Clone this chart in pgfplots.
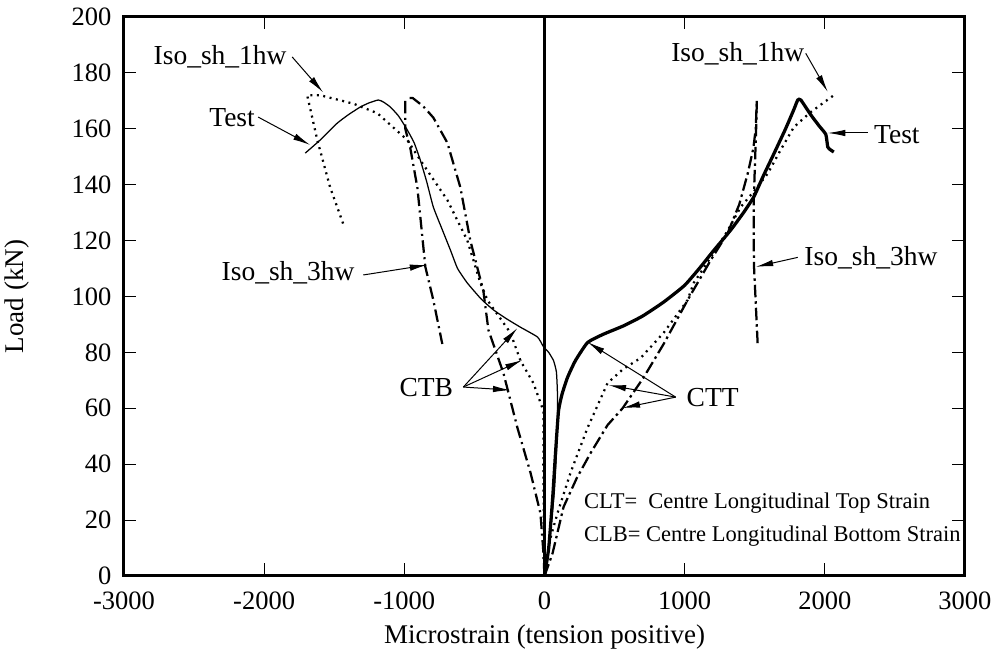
\documentclass[border=0pt]{standalone}
\usepackage{fontspec}
\setmainfont{Liberation Serif}
\usepackage{pgfplots}
\pgfplotsset{compat=1.18}
\usetikzlibrary{arrows.meta}
\pgfplotstableread{
x y
0 0
30 10
57 27
80 45
100 59
125 65
164 71
220 77
307 83.5
420 86.5
564 89.5
700 93
850 98
1000 104
1114 110.6
1200 116
1329 123.8
1420 130
1493 135.6
1560 143
1636 151
1720 160
1780 167
1807 170.3
1829 170.3
1900 165
1960 161
2007 158
2021 153.5
2040 152.5
2064 151.7
}\testright
\pgfplotstableread{
x y
0 0
40 15
70 30
86 45
92 56
92 66
85 73
65 77
30 80
-7 82
-50 85.5
-171 89
-270 92
-364 95.2
-450 99
-550 104.8
-620 110
-671 116.6
-730 124
-793 132
-840 141
-886 148.8
-930 155
-979 159.6
-1040 164.5
-1100 167.8
-1150 169.6
-1186 170.3
-1250 169.3
-1314 167.8
-1400 165
-1479 162
-1600 156
-1707 151.3
}\testleft
\pgfplotstableread{
x y
0 0
20 8
50 15
93 22.5
186 37
307 53
450 69
560 74
686 78
850 87
1021 98.7
1064 104.8
1207 115.6
1300 123
1400 132
1500 138
1593 144
1680 152
1779 160.6
1900 166
2064 172
}\oneright
\pgfplotstableread{
x y
0 0
-5 20
-8 40
-7 59
-79 69
-171 77
-243 87
-407 98.7
-457 104.8
-550 120
-693 134.5
-886 148.8
-979 156
-1193 165.6
-1364 169
-1600 172
-1693 172
-1621 156
-1529 139
-1436 126
}\oneleft
\pgfplotstableread{
x y
0 0
57 8
136 24.7
230 35
329 44
450 54
557 60
707 71
850 83
1021 98.7
1186 113
1307 122.7
1390 133
1450 144
1490 153
1507 160
1515 170
}\threerightup
\pgfplotstableread{
x y
1515 170
1510 160
1500 145
1493 134.5
1493 120
1495 110.6
1505 100
1521 83
}\threerightdown
\pgfplotstableread{
x y
0 0
-10 10
-29 22.5
-100 37
-193 53
-293 72.6
-400 88
-436 102
-529 120
-600 139
-693 155
-793 164
-864 168
-940 171
-985 171
}\threeleftup
\pgfplotstableread{
x y
-993 170
-993 160
-957 153
-907 139
-850 110.6
-793 98.7
-729 83
}\threeleftdown
\begin{document}
\begin{tikzpicture}
\useasboundingbox (-49.6pt,-29.2pt) rectangle (350pt,230.4pt);
\begin{axis}[
  at={(0,0)}, anchor=south west,
  width=336.4pt, height=223.6pt, scale only axis,
  xmin=-3000, xmax=3000, ymin=0, ymax=200,
  xtick distance=1000, ytick distance=20,
  tick align=inside, major tick length=5pt,
  tick style={black, line width=0.4pt},
  axis line style={line width=1.2pt},
  /pgf/number format/assume math mode=true,
  /pgf/number format/1000 sep={},
  tick label style={font=\fontsize{10.6}{12}\selectfont},
  xticklabel shift=3pt,
  yticklabel shift=1.5pt,
  label style={font=\fontsize{10.8}{12}\selectfont},
  xlabel={Microstrain (tension positive)},
  ylabel={Load (kN)},
  xlabel style={yshift=1pt},
  ylabel style={yshift=10pt},
  clip=false,
]
\addplot[black, line width=1.2pt] coordinates {(0,0) (0,200)};
\addplot[black, line width=1.3pt, smooth, tension=0.3] table {\testright};
\addplot[black, line width=0.5pt, smooth, tension=0.3] table {\testleft};
\addplot[black, line width=0.9pt, dash pattern=on 0.8pt off 1.8pt] table {\oneright};
\addplot[black, line width=0.9pt, dash pattern=on 0.8pt off 1.8pt] table {\oneleft};
\addplot[black, line width=0.9pt, dash pattern=on 5pt off 1.6pt on 1pt off 1.6pt] table {\threerightup};
\addplot[black, line width=0.9pt, dash pattern=on 5pt off 1.6pt on 1pt off 1.6pt] table {\threerightdown};
\addplot[black, line width=0.9pt, dash pattern=on 5pt off 1.8pt on 0.8pt off 1.8pt] table {\threeleftup};
\addplot[black, line width=0.9pt, dash pattern=on 5pt off 1.8pt on 0.8pt off 1.8pt] table {\threeleftdown};
\tikzset{lab/.style={font=\fontsize{11}{12}\selectfont, inner sep=0pt},
         arr/.style={-{Latex[length=7pt,width=2.6pt]}, line width=0.4pt}}
% labels
\node[lab] at (axis cs:-2314,185.7) {Iso\_sh\_1hw};
\draw[arr] (axis cs:-1800,185.7) -- (axis cs:-1579,173);
\node[lab] at (axis cs:-2229,163.9) {Test};
\draw[arr] (axis cs:-2043,164.2) -- (axis cs:-1671,154.2);
\node[lab] at (axis cs:-1829,108.4) {Iso\_sh\_3hw};
\draw[arr] (axis cs:-1293,107.7) -- (axis cs:-836,111.3);
\node[lab] at (axis cs:-843,67.6) {CTB};
\draw[arr] (axis cs:-579,67.6) -- (axis cs:-193,88.7);
\draw[arr] (axis cs:-579,67.6) -- (axis cs:-157,77.3);
\draw[arr] (axis cs:-579,67.6) -- (axis cs:-243,66.5);
\node[lab] at (axis cs:1200,64) {CTT};
\draw[arr] (axis cs:936,64) -- (axis cs:307,83.7);
\draw[arr] (axis cs:936,64) -- (axis cs:457,68.3);
\draw[arr] (axis cs:936,64) -- (axis cs:557,60.1);
\node[lab] at (axis cs:1379,187) {Iso\_sh\_1hw};
\draw[arr] (axis cs:1864,187) -- (axis cs:2021,173.2);
\node[lab] at (axis cs:2514,157.8) {Test};
\draw[arr] (axis cs:2307,158.5) -- (axis cs:2021,158.5);
\node[lab] at (axis cs:2329,113.8) {Iso\_sh\_3hw};
\draw[arr] (axis cs:1807,114) -- (axis cs:1507,110.6);
\node[anchor=west, inner sep=0pt, font=\fontsize{9}{11}\selectfont] at (axis cs:279,25.9) {CLT=~ Centre Longitudinal Top Strain};
\node[anchor=west, inner sep=0pt, font=\fontsize{9}{11}\selectfont] at (axis cs:279,14.3) {CLB= Centre Longitudinal Bottom Strain};
\end{axis}
\end{tikzpicture}
\end{document}
